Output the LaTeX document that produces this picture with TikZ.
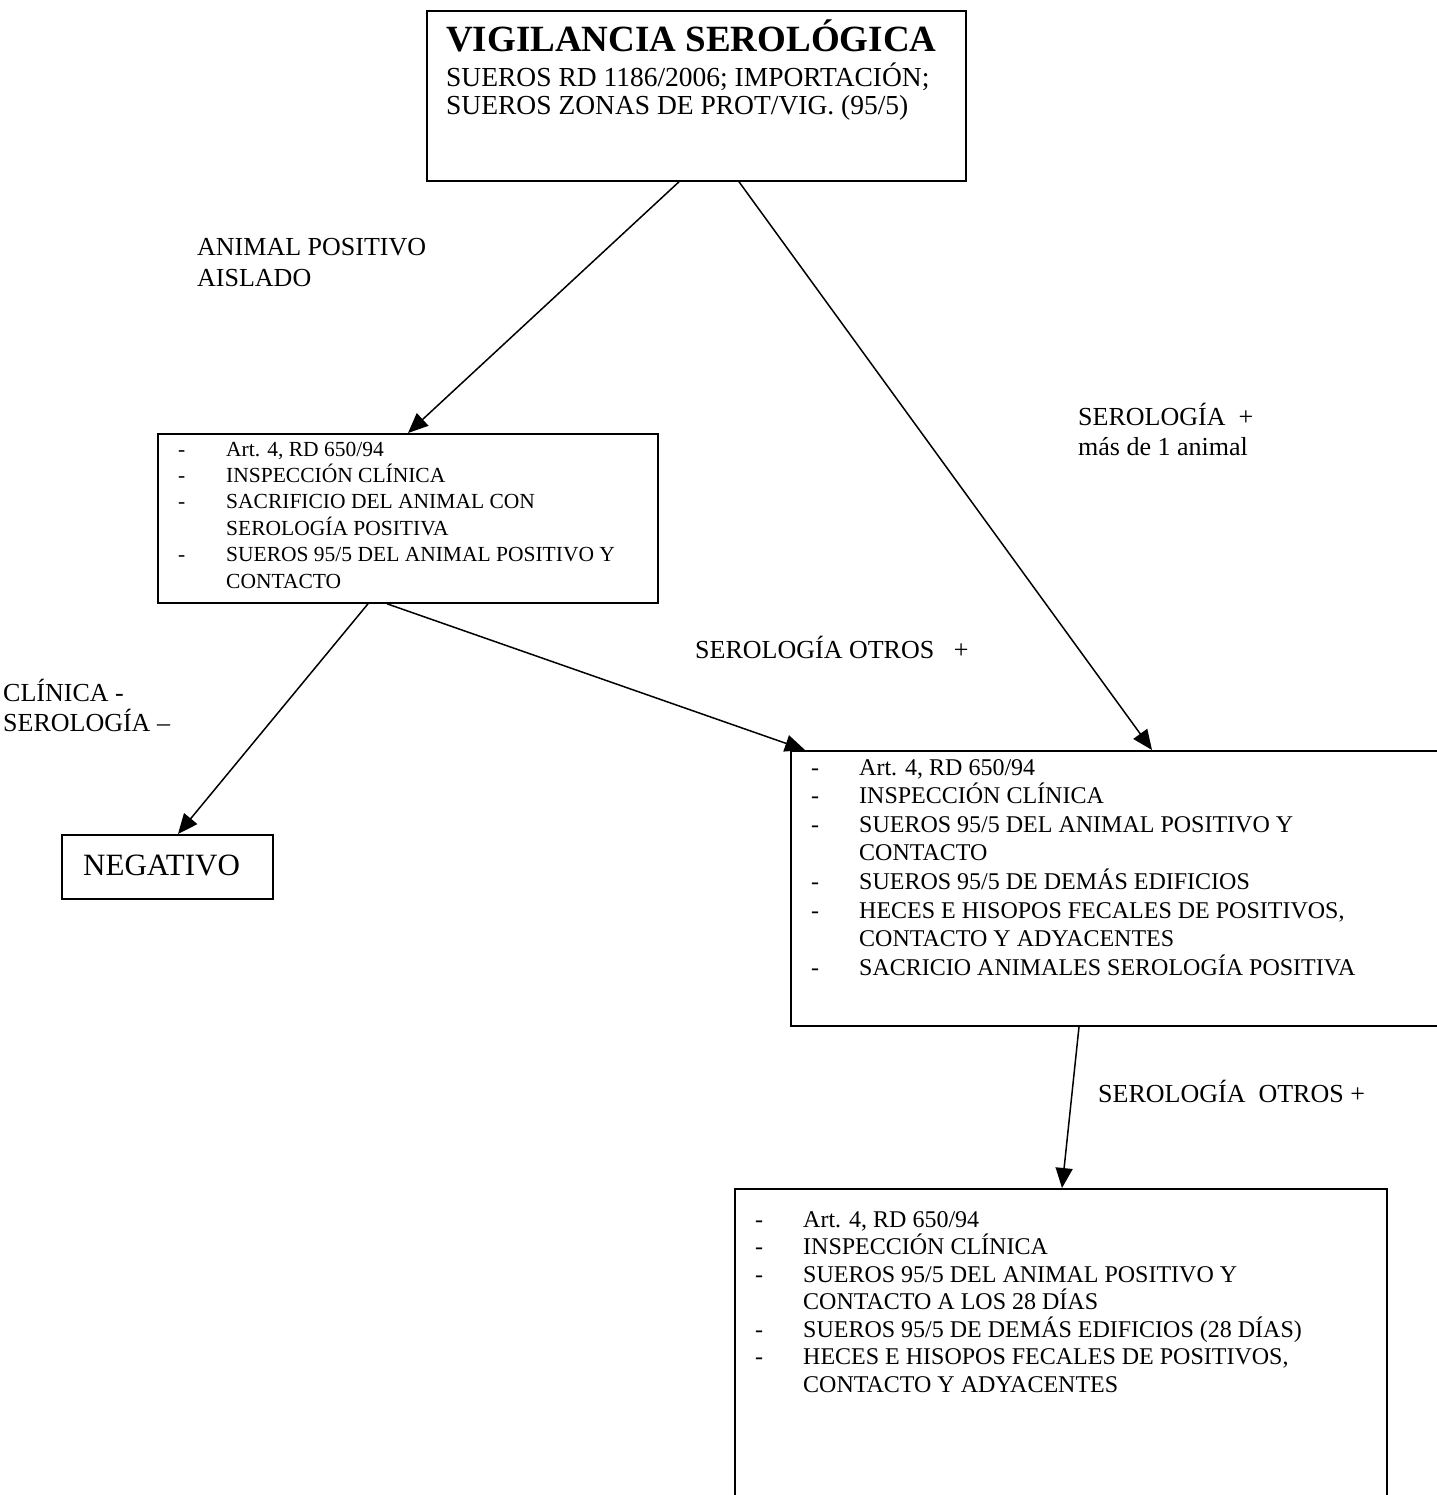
\documentclass[tikz,border=0pt]{standalone}
\usepackage{fontspec}
\setmainfont{Liberation Serif}
\usetikzlibrary{arrows.meta,calc}
\newcommand\dashline[1]{\hbox{\makebox[48pt][l]{-}#1}}
\newcommand\contline[1]{\hbox{\hspace*{48pt}#1}}
\newcommand\stack[2]{\vtop{\baselineskip=#1\lineskiplimit=-100pt\relax #2}}
\tikzset{
  boxn/.style={draw, line width=1.8pt, rectangle, inner sep=0pt, anchor=north west},
  txt/.style={inner sep=0pt, anchor=base west},
  lbl/.style={inner sep=0pt, anchor=base west, font=\fontsize{26}{31}\selectfont},
  arr/.style={line width=1.5pt, -{Triangle[length=20pt,width=17pt]}}
}
\begin{document}
\begin{tikzpicture}[x=1pt,y=-1pt]
\useasboundingbox (0,0) rectangle (1436,1495);
% boxes
\node[boxn, minimum width=539, minimum height=170] (top) at (426,10) {};
\node[boxn, minimum width=500, minimum height=169] (mid) at (157,433) {};
\node[boxn, minimum width=211, minimum height=64] (neg) at (61,834) {};
\node[boxn, minimum width=648, minimum height=275] (right) at (790,750) {};
\node[boxn, minimum width=652, minimum height=310] (low) at (734,1188) {};
% top box text
\node[txt, font=\fontsize{37}{40}\selectfont\bfseries] (title) at (446,52) {VIGILANCIA SEROLÓGICA};
\node[txt, font=\fontsize{27.5}{28}\selectfont] (toptext) at (446,87)
  {\stack{28pt}{\hbox{SUEROS RD 1186/2006; IMPORTACIÓN;}\hbox{SUEROS ZONAS DE PROT/VIG. (95/5)}}};
% mid box text
\node[txt, font=\fontsize{21.5}{26.5}\selectfont] (midtext) at (178,456)
  {\stack{26.4pt}{%
    \dashline{Art. 4, RD 650/94}
    \dashline{INSPECCIÓN CLÍNICA}
    \dashline{SACRIFICIO DEL ANIMAL CON}
    \contline{SEROLOGÍA POSITIVA}
    \dashline{SUEROS 95/5 DEL ANIMAL POSITIVO Y}
    \contline{CONTACTO}}};
% negativo
\node[txt, font=\fontsize{31}{34}\selectfont] (negtext) at (83,875) {NEGATIVO};
% right box text
\node[txt, font=\fontsize{24}{28}\selectfont] (righttext) at (811,775)
  {\stack{28.6pt}{%
    \dashline{Art. 4, RD 650/94}
    \dashline{INSPECCIÓN CLÍNICA}
    \dashline{SUEROS 95/5 DEL ANIMAL POSITIVO Y}
    \contline{CONTACTO}
    \dashline{SUEROS 95/5 DE DEMÁS EDIFICIOS}
    \dashline{HECES E HISOPOS FECALES DE POSITIVOS,}
    \contline{CONTACTO Y ADYACENTES}
    \dashline{SACRICIO ANIMALES SEROLOGÍA POSITIVA}}};
% lower box text
\node[txt, font=\fontsize{24}{28}\selectfont] (lowtext) at (755,1227)
  {\stack{27.5pt}{%
    \dashline{Art. 4, RD 650/94}
    \dashline{INSPECCIÓN CLÍNICA}
    \dashline{SUEROS 95/5 DEL ANIMAL POSITIVO Y}
    \contline{CONTACTO A LOS 28 DÍAS}
    \dashline{SUEROS 95/5 DE DEMÁS EDIFICIOS (28 DÍAS)}
    \dashline{HECES E HISOPOS FECALES DE POSITIVOS,}
    \contline{CONTACTO Y ADYACENTES}}};
% labels
\node[lbl] (l1) at (197,256) {\stack{31pt}{\hbox{ANIMAL POSITIVO}\hbox{AISLADO}}};
\node[lbl] (l2) at (1078,425) {\stack{30pt}{\hbox{SEROLOGÍA\ \ +}\hbox{más de 1 animal}}};
\node[lbl] (l3) at (695,658) {SEROLOGÍA OTROS\ \ \ +};
\node[lbl] (l4) at (3,701) {\stack{30pt}{\hbox{CLÍNICA -}\hbox{SEROLOGÍA –}}};
\node[lbl] (l5) at (1098,1102) {SEROLOGÍA\ \ OTROS +};
% connectors
\draw[arr] ($(top.south west)+(253,0)$) -- ($(mid.north west)+(251,0)$);
\draw[arr] ($(top.south west)+(313,0)$) -- ($(right.north west)+(362,0)$);
\draw[arr] ($(mid.south west)+(211,0)$) -- ($(neg.north west)+(117,0)$);
\draw[arr] ($(mid.south west)+(230,0)$) -- ($(right.north west)+(15,0)$);
\draw[arr] ($(right.south west)+(289,0)$) -- ($(low.north west)+(328,0)$);
\end{tikzpicture}
\end{document}
